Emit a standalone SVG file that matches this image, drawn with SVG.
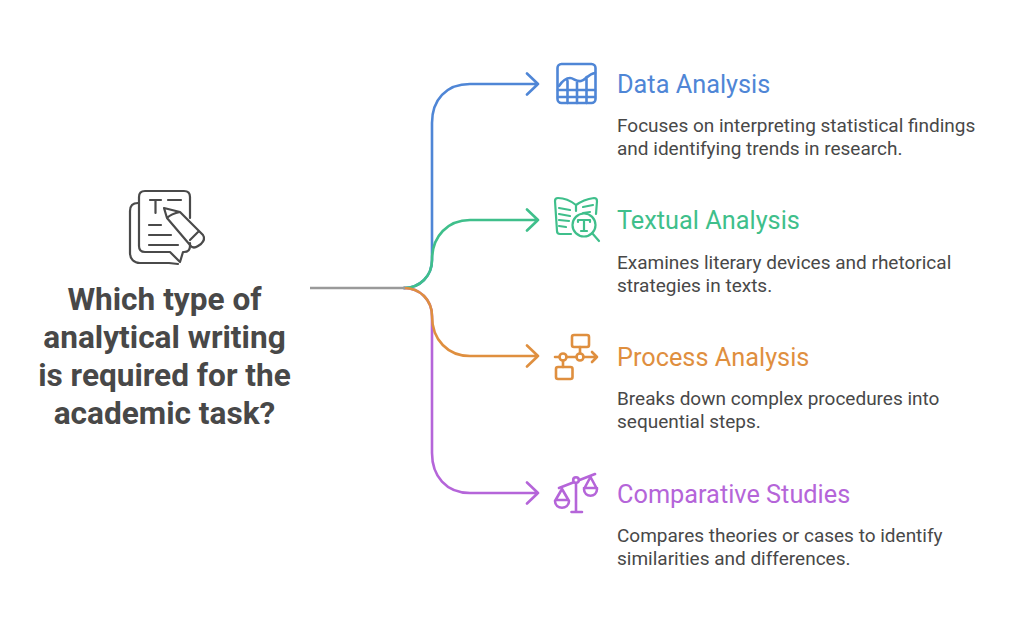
<svg xmlns="http://www.w3.org/2000/svg" width="1024" height="630" viewBox="0 0 1024 630">
<style>
text{font-family:Roboto,"Liberation Sans",sans-serif}
.q{font-size:31.6px;font-weight:700;fill:#484848;text-anchor:middle}
.t{font-size:25.3px;font-weight:400}
.d{font-size:19px;fill:#484848}
.c{fill:none;stroke-width:2.6;stroke-linecap:round;stroke-linejoin:round}
.i{fill:none;stroke-width:2.6;stroke-linecap:round;stroke-linejoin:round}
.blue{stroke:#4f86d6}.green{stroke:#3fbf8b}.orange{stroke:#df8f3f}.purple{stroke:#b565d9}
</style>
<rect width="1024" height="630" fill="#fff"/>
<g id="connectors">
<path class="c blue" d="M404 288C420 288 432 276 432 260V123C432 100 446 84 470 84H538M527 73.500L538 84L527 94.500"/>
<path class="c purple" d="M404 288C420 288 432 300 432 316V453C432 476 446 493 470 493H538M527 482.500L538 493L527 503.500"/>
<path class="c green" d="M404 288C420 288 432 276 432 260C432 236 448 220 470 220H538M527 209.500L538 220L527 230.500"/>
<path class="c orange" d="M404 288C420 288 432 300 432 316C432 340 448 356 470 356H538M527 345.500L538 356L527 366.500"/>
<path d="M310 288H405" fill="none" stroke="#9a9a9a" stroke-width="2.600"/>
</g>
<g id="question">
<g class="i" style="stroke:#4a4a4a;stroke-width:2.200">
<path d="M138 203C133 203 130 206 130 211V253C130 259 134 263 140 263H169L178 264"/>
<path d="M190 218V197C190 193 188 191 184 191H145C141 191 139 193 139 197V246C139 250 141 252 145 252H170L180 262L183 252H184C188 252 190 250 190 246V243"/>
<path d="M150 200H161M155.500 200V213M168 200H181M149 225H161M149 235H171M149 245H178"/>
<path d="M164 208L180 212L203 235C205 238 204 241 201 244L198 246C195 248 192 248 190 245L167 218ZM180 212C175 213 169 216 167 218M190 240L199 231"/>
</g>
<text class="q" x="164.500" y="310">Which type of</text>
<text class="q" x="164.500" y="348">analytical writing</text>
<text class="q" x="164.500" y="386">is required for the</text>
<text class="q" x="164.500" y="424">academic task?</text>
</g>
<g id="data-analysis">
<g class="i blue">
<rect x="557.500" y="64" width="38" height="39" rx="4"/>
<path d="M559 86C563 80 566 78 570 78C574 78 576 82 581 81C586 80 588 74 595 73M558 90H595M558 97H595M567.500 81V103M577 82V103M586.500 77V103"/>
</g>
<text class="t" x="617" y="93" fill="#4f86d6">Data Analysis</text>
<text class="d" x="617" y="132">Focuses on interpreting statistical findings</text>
<text class="d" x="617" y="155">and identifying trends in research.</text>
</g>
<g id="textual-analysis">
<g class="i green" style="stroke-width:2.200">
<path d="M571 234H560C558 234 557 233 557 231L555 201C555 199 556 198 558 198C566 198 571 201 576 205C580 202 587 199 594 198C596 198 597 199 597 201L596 214M576 205V211"/>
<path d="M559 208L570 210M559 214L570 216M559 220L569 221M559 226L566 227M583 207L593 205M583 213L590 212"/>
<circle cx="584" cy="225" r="11.500"/>
<path d="M592 233L599 241M578 222V220H590V222M584 220V231M581 231H587"/>
</g>
<text class="t" x="617" y="229" fill="#3fbf8b">Textual Analysis</text>
<text class="d" x="617" y="269">Examines literary devices and rhetorical</text>
<text class="d" x="617" y="292">strategies in texts.</text>
</g>
<g id="process-analysis">
<g class="i orange">
<rect x="572" y="335" width="17" height="12" rx="2"/>
<rect x="556" y="367" width="16.500" height="12" rx="2"/>
<circle cx="563" cy="357" r="3.500"/>
<circle cx="580" cy="357" r="3.500"/>
<path d="M555 357H559.500M566.500 357H576.500M583.500 357H597M592 352L597 357L592 362M580 347V353.500M563 360.500V367"/>
</g>
<text class="t" x="617" y="366" fill="#df8f3f">Process Analysis</text>
<text class="d" x="617" y="405">Breaks down complex procedures into</text>
<text class="d" x="617" y="428">sequential steps.</text>
</g>
<g id="comparative-studies">
<g class="i purple">
<path d="M559 488L595 474M576 482V512M571.500 512H582"/>
<circle cx="576" cy="480" r="2.800" fill="#fff"/>
<path d="M562 489L555 501C555 510 569 510 569 501L562 489M556 500H568"/>
<path d="M590.500 477L584 489C584 498 597 498 597 489L590.500 477M584 488H597"/>
</g>
<text class="t" x="617" y="503" fill="#b565d9">Comparative Studies</text>
<text class="d" x="617" y="542">Compares theories or cases to identify</text>
<text class="d" x="617" y="565">similarities and differences.</text>
</g>
</svg>
